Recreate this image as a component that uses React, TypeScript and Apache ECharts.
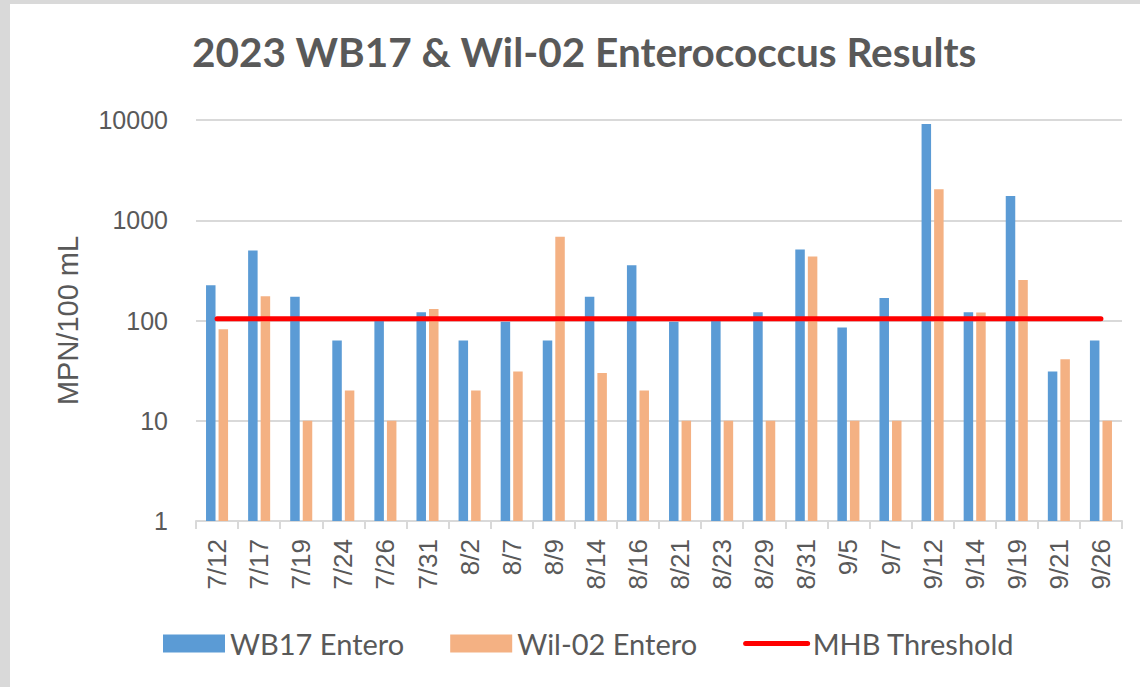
import React, { useEffect, useRef } from "react";
import * as echarts from "echarts";

const categories = ["7/12","7/17","7/19","7/24","7/26","7/31","8/2","8/7","8/9","8/14","8/16","8/21","8/23","8/29","8/31","9/5","9/7","9/12","9/14","9/19","9/21","9/26"];
const wb17 = [225,500,173,63,100,121,63,97,63,173,356,97,108,121,510,85,168,9100,121,1750,31,63];
const wil02 = [82,175,10,20,10,130,20,31,683,30,20,10,10,10,435,10,10,2040,120,253,41,10];
const thresholdValue = 104;
const threshold = categories.map(() => thresholdValue);
const yTicks = [1, 10, 100, 1000, 10000];

export default function App() {
  const ref = useRef<HTMLDivElement>(null);
  useEffect(() => {
    if (!ref.current) return;
    const chart = echarts.init(ref.current, null, { renderer: "svg" });
    const gray = "#595959";
    chart.setOption({
      animation: false,
      backgroundColor: "#ffffff",
      title: {
        text: "2023 WB17 & Wil-02 Enterococcus Results",
        left: 177,
        top: 22,
        textStyle: { fontFamily: "Lato", fontWeight: "bold", fontSize: 40.5, color: gray },
      },
      legend: {
        left: 148,
        top: 620,
        itemWidth: 62,
        itemHeight: 18,
        itemGap: 46,
        textStyle: { fontFamily: "Lato", fontSize: 29, color: gray },
        data: [
          { name: "WB17 Entero", icon: "rect" },
          { name: "Wil-02 Entero", icon: "rect" },
          {
            name: "MHB Threshold",
            itemStyle: { color: "transparent", borderWidth: 0 },
            lineStyle: { width: 5, color: "#ff0000", cap: "round" },
          },
        ],
      },
      grid: { left: 186, right: 18, top: 116, bottom: 166 },
      xAxis: {
        type: "category",
        data: categories,
        axisLine: { lineStyle: { color: "#d9d9d9", width: 2 } },
        axisTick: { show: true, length: 8, lineStyle: { color: "#d9d9d9", width: 2 } },
        axisLabel: { rotate: 90, margin: 18, fontFamily: "Liberation Sans", fontSize: 26, color: gray },
      },
      yAxis: {
        type: "log",
        logBase: 10,
        min: yTicks[0],
        max: yTicks[yTicks.length - 1],
        name: "MPN/100 mL",
        nameLocation: "middle",
        nameGap: 114,
        nameTextStyle: { fontFamily: "Liberation Sans", fontSize: 29, color: gray },
        axisLine: { show: false },
        axisTick: { show: false },
        axisLabel: {
          margin: 28,
          fontFamily: "Liberation Sans",
          fontSize: 25,
          color: gray,
          formatter: (v: number) => String(Math.round(v)),
        },
        splitLine: { lineStyle: { color: "#d9d9d9", width: 2 } },
      },
      series: [
        {
          name: "WB17 Entero",
          type: "bar",
          data: wb17,
          barWidth: 9.5,
          barGap: "32%",
          itemStyle: { color: "#5b9bd5" },
        },
        {
          name: "Wil-02 Entero",
          type: "bar",
          data: wil02,
          barWidth: 9.5,
          itemStyle: { color: "#f4b183" },
        },
        {
          name: "MHB Threshold",
          type: "line",
          data: threshold,
          symbol: "none",
          lineStyle: { color: "#ff0000", width: 5, cap: "round" },
          itemStyle: { color: "#ff0000" },
          z: 5,
        },
      ],
    });
    return () => chart.dispose();
  }, []);
  return (
    <div style={{ position: "fixed", left: 0, top: 0, width: 1140, height: 687, background: "#d9d9d9" }}>
      <div ref={ref} style={{ position: "absolute", left: 10, top: 4, width: 1130, height: 683, background: "#fff" }} />
    </div>
  );
}
